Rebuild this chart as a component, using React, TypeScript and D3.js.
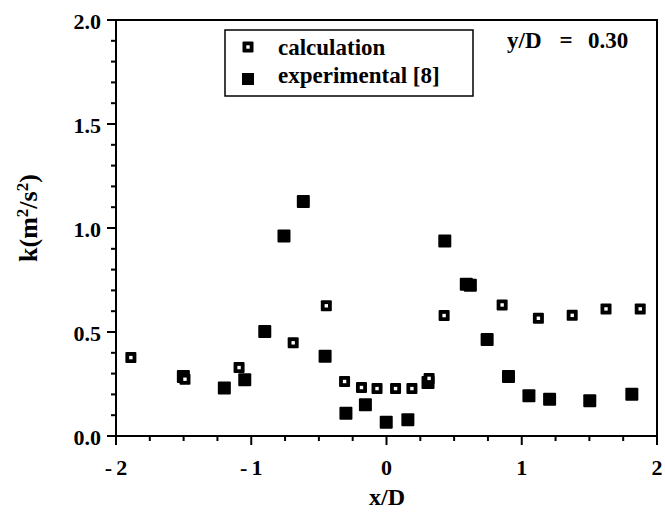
import React from "react";
import * as d3 from "d3";

const calcX = [-1.89, -1.49, -1.09, -0.69, -0.445, -0.31, -0.185, -0.07, 0.067, 0.188, 0.315, 0.426, 0.855, 1.123, 1.373, 1.623, 1.876];
const calcK = [0.377, 0.273, 0.329, 0.448, 0.626, 0.262, 0.233, 0.228, 0.228, 0.228, 0.277, 0.579, 0.63, 0.566, 0.58, 0.611, 0.611];

const expX = [-1.502, -1.199, -1.048, -0.9, -0.758, -0.615, -0.454, -0.3, -0.156, -0.002, 0.158, 0.307, 0.431, 0.59, 0.62, 0.744, 0.902, 1.053, 1.206, 1.503, 1.814];
const expK = [0.286, 0.231, 0.271, 0.502, 0.962, 1.128, 0.384, 0.109, 0.15, 0.066, 0.078, 0.257, 0.938, 0.73, 0.725, 0.464, 0.286, 0.193, 0.177, 0.169, 0.201];

const xTicks = [-2, -1, 0, 1, 2];
const xTickLabels = ["-\u20092", "-\u20091", "0", "1", "2"];
const yTicks = [0, 0.5, 1.0, 1.5, 2.0];
const yTickLabels = ["0.0", "0.5", "1.0", "1.5", "2.0"];
const legendLabels = ["calculation", "experimental [8]"];
const annotationParts = ["y/D", "=", "0.30"];

const L = 116, R = 657, T = 20, B = 436;
const font = "Liberation Serif, DejaVu Serif, serif";

export default function App() {
  const x = d3.scaleLinear().domain([-2, 2]).range([L, R]);
  const y = d3.scaleLinear().domain([0, 2]).range([B, T]);
  const xMinor = d3.range(-2, 2.001, 0.25);
  const yMinor = d3.range(0, 2.001, 0.1);

  const calcMarker = (cx: number, cy: number, key: string | number) => (
    <g key={key}>
      <rect x={cx - 5.5} y={cy - 5.5} width={11} height={11} fill="#000" rx={1} />
      <rect x={cx - 1.7} y={cy - 1.7} width={3.4} height={3.4} fill="#fff" />
    </g>
  );
  const expMarker = (cx: number, cy: number, key: string | number) => (
    <rect key={key} x={cx - 6.5} y={cy - 6.5} width={13} height={13} fill="#000" rx={1} />
  );

  return (
    <svg width={665} height={512} style={{ position: "absolute", left: 0, top: 0, background: "#fff" }}>
      <rect x={0} y={0} width={665} height={512} fill="#fff" />
      <rect x={L} y={T} width={R - L} height={B - T} fill="none" stroke="#000" strokeWidth={2} />
      {xMinor.map((t, i) => {
        const major = Math.abs(t - Math.round(t)) < 1e-6;
        return <line key={"xm" + i} x1={x(t)} x2={x(t)} y1={B} y2={B + (major ? 9 : 5)} stroke="#000" strokeWidth={2} />;
      })}
      {yMinor.map((t, i) => {
        const major = Math.abs(t * 2 - Math.round(t * 2)) < 1e-6;
        return <line key={"ym" + i} x1={L - (major ? 9 : 5)} x2={L} y1={y(t)} y2={y(t)} stroke="#000" strokeWidth={2} />;
      })}
      {xTicks.map((t, i) => (
        <text key={"xl" + i} x={x(t)} y={475} textAnchor="middle" fontFamily={font} fontWeight="bold" fontSize={22} style={{ whiteSpace: "pre" }}>
          {xTickLabels[i]}
        </text>
      ))}
      {yTicks.map((t, i) => (
        <text key={"yl" + i} x={101} y={y(t) + 9} textAnchor="end" fontFamily={font} fontWeight="bold" fontSize={22}>
          {yTickLabels[i]}
        </text>
      ))}
      <text x={387} y={505} textAnchor="middle" fontFamily={font} fontWeight="bold" fontSize={24}>x/D</text>
      <text transform="translate(37,218) rotate(-90)" textAnchor="middle" fontFamily={font} fontWeight="bold" fontSize={26}>
        k(m<tspan baselineShift="super" fontSize={17}>2</tspan>/s<tspan baselineShift="super" fontSize={17}>2</tspan>)
      </text>
      {expX.map((v, i) => expMarker(x(v), y(expK[i]), "e" + i))}
      {calcX.map((v, i) => calcMarker(x(v), y(calcK[i]), "c" + i))}
      <rect x={225} y={30} width={248} height={66} fill="#fff" stroke="#000" strokeWidth={1.5} />
      {calcMarker(248, 47, "lg1")}
      <rect x={242} y={73} width={12} height={12} fill="#000" />
      <text x={278} y={55} fontFamily={font} fontWeight="bold" fontSize={23}>{legendLabels[0]}</text>
      <text x={278} y={83} fontFamily={font} fontWeight="bold" fontSize={23}>{legendLabels[1]}</text>
      <text x={507} y={48} fontFamily={font} fontWeight="bold" fontSize={23}>{annotationParts[0]}</text>
      <text x={566} y={48} textAnchor="middle" fontFamily={font} fontWeight="bold" fontSize={23}>{annotationParts[1]}</text>
      <text x={588} y={48} fontFamily={font} fontWeight="bold" fontSize={23}>{annotationParts[2]}</text>
    </svg>
  );
}
